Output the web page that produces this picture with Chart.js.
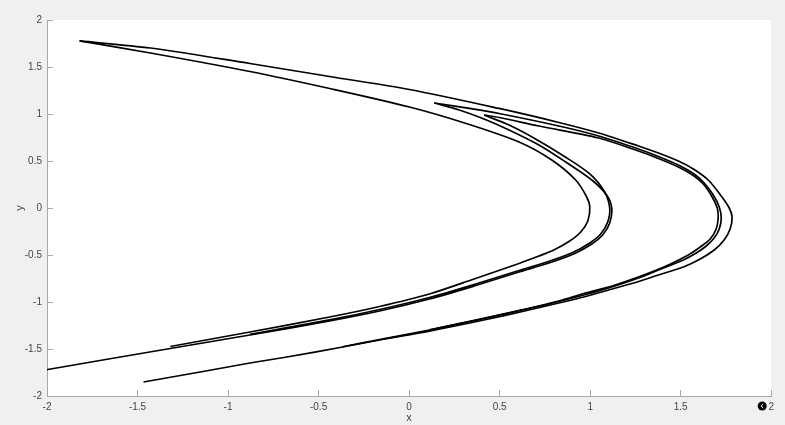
<!DOCTYPE html>
<html>
<head>
<meta charset="utf-8">
<script src="https://cdn.jsdelivr.net/npm/chart.js@4/dist/chart.umd.min.js"></script>
<style>
    html, body { margin: 0; padding: 0; background: #f0f0f0; }
    canvas { display: block; }
</style>
</head>
<body>
<canvas id="attractorChart" width="785" height="425"></canvas>
<script>
/** --------------------DATA-------------------- */

// outer arm: top-left tip -> outer bend -> lower end
const outerX = [-1.820, -1.429, -0.879, -0.439, 0.002, 0.497, 0.827, 1.047, 1.267, 1.377, 1.487, 1.570, 1.652, 1.724, 1.768, 1.784,
    1.773, 1.740, 1.685, 1.608, 1.515, 1.377, 1.240, 1.102, 0.965, 0.827, 0.662, 0.387, 0.112, -0.163, -0.367, -0.675, -0.879, -1.154, -1.467];
const outerY = [1.777, 1.702, 1.537, 1.399, 1.261, 1.059, 0.910, 0.798, 0.660, 0.585, 0.500, 0.415, 0.298, 0.128, 0.000, -0.096,
    -0.223, -0.340, -0.447, -0.543, -0.628, -0.713, -0.798, -0.872, -0.947, -1.011, -1.085, -1.202, -1.309, -1.404, -1.479, -1.585, -1.649, -1.745, -1.851];

// inner arm: top-left tip -> bend at x~1 -> ends near (-1.3, -1.47)
const innerX = [-1.820, -1.429, -0.879, -0.439, 0.002, 0.315, 0.607, 0.788, 0.920, 0.981, 0.998,
    0.987, 0.948, 0.887, 0.799, 0.717, 0.607, 0.359, 0.112, -0.163, -0.439, -0.879, -1.319];
const innerY = [1.777, 1.649, 1.452, 1.271, 1.074, 0.899, 0.702, 0.511, 0.298, 0.117, 0.011,
    -0.138, -0.255, -0.351, -0.447, -0.511, -0.590, -0.755, -0.915, -1.048, -1.160, -1.319, -1.473];

// first fold (tip near x=0.14), lower strand -> middle bend -> runs off the left edge
const fold1LowX = [0.139, 0.277, 0.414, 0.552, 0.717, 0.865, 1.009, 1.091, 1.119, 1.108, 1.069, 1.009, 0.909, 0.772,
    0.607, 0.359, 0.112, -0.163, -0.439, -0.879, -1.319, -1.676, -1.996, -2.078];
const fold1LowY = [1.117, 1.043, 0.947, 0.830, 0.670, 0.489, 0.298, 0.138, 0.000, -0.160, -0.287, -0.383, -0.489, -0.585,
    -0.681, -0.830, -0.968, -1.096, -1.202, -1.351, -1.495, -1.612, -1.718, -1.745];

// first fold, upper strand -> outer bend (inside) -> lower bundle
const fold1UpX = [0.139, 0.332, 0.497, 0.827, 1.047, 1.267, 1.377, 1.487, 1.570, 1.625, 1.680, 1.713, 1.724,
    1.713, 1.685, 1.641, 1.586, 1.515, 1.405, 1.267, 1.102, 0.965, 0.827, 0.662, 0.387, 0.112, -0.163, -0.367];
const fold1UpY = [1.117, 1.059, 1.005, 0.872, 0.766, 0.628, 0.548, 0.457, 0.367, 0.277, 0.138, 0.011, -0.106,
    -0.223, -0.319, -0.404, -0.479, -0.553, -0.638, -0.745, -0.851, -0.926, -0.995, -1.069, -1.186, -1.298, -1.400, -1.476];

// second fold (tip near x=0.41), upper strand
const fold2UpX = [0.414, 0.497, 0.717, 1.047, 1.267, 1.377, 1.487, 1.570, 1.625, 1.674, 1.702, 1.707,
    1.696, 1.663, 1.608, 1.542, 1.432, 1.295, 1.130, 0.965, 0.827, 0.662, 0.387, 0.112];
const fold2UpY = [0.989, 0.963, 0.872, 0.745, 0.606, 0.527, 0.436, 0.346, 0.255, 0.117, 0.000, -0.106,
    -0.223, -0.330, -0.415, -0.500, -0.606, -0.713, -0.824, -0.910, -0.989, -1.066, -1.185, -1.297];

// second fold, lower strand
const fold2LowX = [0.414, 0.552, 0.689, 0.854, 0.998, 1.080, 1.108, 1.097, 1.058, 0.998, 0.898, 0.761,
    0.607, 0.359, 0.112, -0.163, -0.439, -0.879];
const fold2LowY = [0.989, 0.883, 0.745, 0.553, 0.362, 0.170, 0.000, -0.149, -0.277, -0.372, -0.479, -0.574,
    -0.665, -0.814, -0.952, -1.080, -1.191, -1.343];

const tickValues = [-2, -1.5, -1, -0.5, 0, 0.5, 1, 1.5, 2];

/** --------------------END DATA-------------------- */

const axisColor = '#a8a8a8';
const labelColor = '#454545';

function toPoints(xs, ys) {
    let points = [];
    for (let i = 0; i < xs.length; i++) {
        points.push({x: xs[i], y: ys[i]});
    }
    return points;
}

function strand(xs, ys) {
    return {
        data: toPoints(xs, ys),
        showLine: true,
        borderColor: '#000000',
        borderWidth: 1.7,
        pointRadius: 0,
        tension: 0.3,
        fill: false,
    };
}

// white plot box on the grey figure
const plotBackground = {
    id: 'plotBackground',
    beforeDraw(chart) {
        const {ctx, chartArea} = chart;
        ctx.save();
        ctx.fillStyle = '#ffffff';
        ctx.fillRect(chartArea.left, chartArea.top, chartArea.right - chartArea.left, chartArea.bottom - chartArea.top);
        ctx.restore();
    }
};

// small round toolbar button left of the last x label
const toolbarButton = {
    id: 'toolbarButton',
    afterDraw(chart) {
        const {ctx, chartArea} = chart;
        let cx = chartArea.right - 9;
        let cy = chartArea.bottom + 10;
        ctx.save();
        ctx.beginPath();
        ctx.arc(cx, cy, 4.5, 0, Math.PI * 2);
        ctx.fillStyle = '#000000';
        ctx.fill();
        ctx.strokeStyle = '#ffffff';
        ctx.lineWidth = 1;
        ctx.beginPath();
        ctx.moveTo(cx + 1, cy - 2);
        ctx.lineTo(cx - 1.2, cy);
        ctx.lineTo(cx + 1, cy + 2);
        ctx.stroke();
        ctx.restore();
    }
};

function axisOptions(title, isX) {
    return {
        type: 'linear',
        min: -2,
        max: 2,
        afterBuildTicks: function (scale) {
            scale.ticks = tickValues.map(v => ({value: v}));
        },
        afterFit: function (scale) {
            if (isX) {
                scale.height = 29;
            } else {
                scale.width = 47;
            }
        },
        grid: {
            drawOnChartArea: false,
            drawTicks: true,
            tickLength: -6,
            color: axisColor,
            lineWidth: 1,
        },
        border: {
            display: true,
            color: axisColor,
            width: 1,
        },
        ticks: {
            padding: 11,
            color: labelColor,
            maxRotation: 0,
            autoSkip: false,
            font: {family: '"Liberation Sans", Arial, sans-serif', size: 10},
            callback: function (value) {
                return String(value);
            }
        },
        title: {
            display: true,
            text: title,
            color: labelColor,
            font: {family: '"Liberation Sans", Arial, sans-serif', size: 11},
            padding: isX ? {top: 0, bottom: 0} : {top: 13.4, bottom: 0},
        }
    };
}

const ctx = document.getElementById('attractorChart').getContext('2d');
let attractorChart = new Chart(ctx, {
    type: 'scatter',
    data: {
        datasets: [
            strand(outerX, outerY),
            strand(innerX, innerY),
            strand(fold1LowX, fold1LowY),
            strand(fold1UpX, fold1UpY),
            strand(fold2UpX, fold2UpY),
            strand(fold2LowX, fold2LowY),
        ]
    },
    options: {
        responsive: false,
        animation: false,
        layout: {
            padding: {top: 20, right: 11, left: 0, bottom: 0}
        },
        plugins: {
            legend: {display: false},
            tooltip: {enabled: false},
        },
        scales: {
            x: axisOptions('x', true),
            y: axisOptions('y', false),
        }
    },
    plugins: [plotBackground, toolbarButton]
});
</script>
</body>
</html>
